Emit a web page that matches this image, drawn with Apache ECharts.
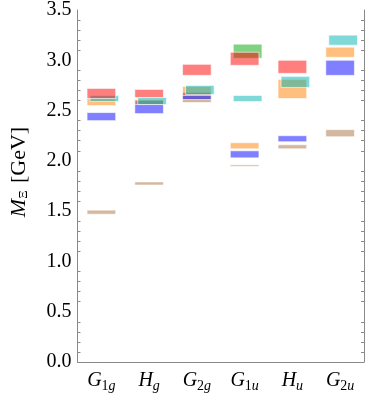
<!DOCTYPE html>
<html>
<head>
<meta charset="utf-8">
<script src="https://cdn.jsdelivr.net/npm/echarts@6/dist/echarts.min.js"></script>
<style>
  html, body { margin: 0; padding: 0; background: #fff; }
  #chart { width: 374px; height: 395px; }
</style>
</head>
<body>
<div id="chart"></div>
<script>
// irreps along the x axis
var categories = ['G1g', 'Hg', 'G2g', 'G1u', 'Hu', 'G2u']

// [low, high] mass bands in GeV, one per irrep (null = no level)
var redBands = [[2.62, 2.72], [2.63, 2.71], [2.85, 2.96], [2.95, 3.08], [2.87, 3.00], null]
var orangeBands = [[2.55, 2.62], [2.56, 2.61], [2.65, 2.74], [2.12, 2.18], [2.62, 2.81], [3.03, 3.13]]
var cyanBands = [[2.59, 2.65], [2.56, 2.63], [2.66, 2.75], [2.59, 2.65], [2.73, 2.84], [3.15, 3.25]]
var blueBands = [[2.40, 2.48], [2.47, 2.60], [2.61, 2.68], [2.03, 2.10], [2.19, 2.25], [2.85, 3.00]]
var brownBands = [[1.47, 1.51], [1.76, 1.79], [2.58, 2.66], [1.945, 1.96], [2.12, 2.16], [2.24, 2.31]]
var greenBands = [null, null, null, [3.02, 3.16], null, null]

var yTicks = [0, 0.5, 1, 1.5, 2, 2.5, 3, 3.5]

function toData (bands) {
  var out = []
  bands.forEach(function (b, i) {
    if (b) out.push([i, b[0], b[1]])
  })
  return out
}

function makeBox (color, shift) {
  return function (params, api) {
    var top = api.coord([api.value(0), api.value(2)])
    var bottom = api.coord([api.value(0), api.value(1)])
    var w = api.size([1, 0])[0] * 0.6
    return {
      type: 'rect',
      shape: { x: top[0] - w / 2 + shift, y: top[1], width: w, height: Math.max(bottom[1] - top[1], 1) },
      style: { fill: color, stroke: 'rgba(255,255,255,0.6)', lineWidth: 1 }
    }
  }
}

function boxSeries (bands, color, shift) {
  return {
    type: 'custom',
    renderItem: makeBox(color, shift),
    encode: { x: 0, y: [1, 2] },
    data: toData(bands)
  }
}

var labelRich = {
  it: { fontFamily: 'Liberation Serif', fontStyle: 'italic', fontSize: 20, color: '#000' },
  sub: { fontFamily: 'Liberation Serif', fontSize: 14, color: '#000', padding: [10, 0, 0, 0] },
  subit: { fontFamily: 'Liberation Serif', fontStyle: 'italic', fontSize: 14, color: '#000', padding: [10, 0, 0, 0] }
}

function catLabel (name) {
  var head = name.charAt(0)
  var rest = name.slice(1)
  var s = '{it|' + head + '}'
  if (rest.length === 2) {
    s += '{sub|' + rest.charAt(0) + '}{subit|' + rest.charAt(1) + '}'
  } else {
    s += '{subit|' + rest + '}'
  }
  return s
}

var axisGray = '#8a8a8a'

var chart = echarts.init(document.getElementById('chart'))
chart.setOption({
  animation: false,
  grid: { left: 70, right: 10, top: 10, bottom: 33 },
  xAxis: {
    type: 'category',
    data: categories,
    axisLine: { lineStyle: { color: axisGray } },
    axisTick: { inside: true, alignWithLabel: true, length: 4, lineStyle: { color: axisGray } },
    axisLabel: { interval: 0, margin: 7, formatter: catLabel, rich: labelRich }
  },
  yAxis: [
    {
      type: 'value',
      min: yTicks[0],
      max: yTicks[yTicks.length - 1],
      interval: 0.5,
      name: '{it|M}{sub|Ξ} [GeV]',
      nameLocation: 'middle',
      nameGap: 47,
      nameTextStyle: {
        fontFamily: 'Liberation Serif',
        fontSize: 22,
        color: '#000',
        padding: [0, 0, 0, 28],
        rich: {
          it: { fontFamily: 'Liberation Serif', fontStyle: 'italic', fontSize: 22, color: '#000' },
          sub: { fontFamily: 'Liberation Serif', fontSize: 13, color: '#000', padding: [10, 2, 0, 0] }
        }
      },
      axisLine: { show: true, lineStyle: { color: axisGray } },
      axisTick: { inside: true, length: 5, lineStyle: { color: axisGray } },
      minorTick: { show: true, splitNumber: 5, length: 3, lineStyle: { color: axisGray } },
      splitLine: { show: false },
      axisLabel: {
        fontFamily: 'Liberation Serif',
        fontSize: 20,
        color: '#000',
        margin: 6,
        formatter: function (v) { return v.toFixed(1) }
      }
    },
    {
      type: 'value',
      position: 'right',
      min: yTicks[0],
      max: yTicks[yTicks.length - 1],
      interval: 0.5,
      axisLine: { show: true, lineStyle: { color: axisGray } },
      axisTick: { inside: true, length: 5, lineStyle: { color: axisGray } },
      minorTick: { show: true, splitNumber: 5, length: 3, lineStyle: { color: axisGray } },
      splitLine: { show: false },
      axisLabel: { show: false }
    }
  ],
  series: [
    boxSeries(brownBands, 'rgba(168,112,64,0.5)', 0),
    boxSeries(blueBands, 'rgba(0,0,255,0.5)', 0),
    boxSeries(orangeBands, 'rgba(255,128,0,0.5)', 0),
    boxSeries(cyanBands, 'rgba(0,180,180,0.5)', 3),
    boxSeries(greenBands, 'rgba(0,165,0,0.5)', 3),
    boxSeries(redBands, 'rgba(255,0,0,0.5)', 0)
  ]
})
</script>
</body>
</html>
